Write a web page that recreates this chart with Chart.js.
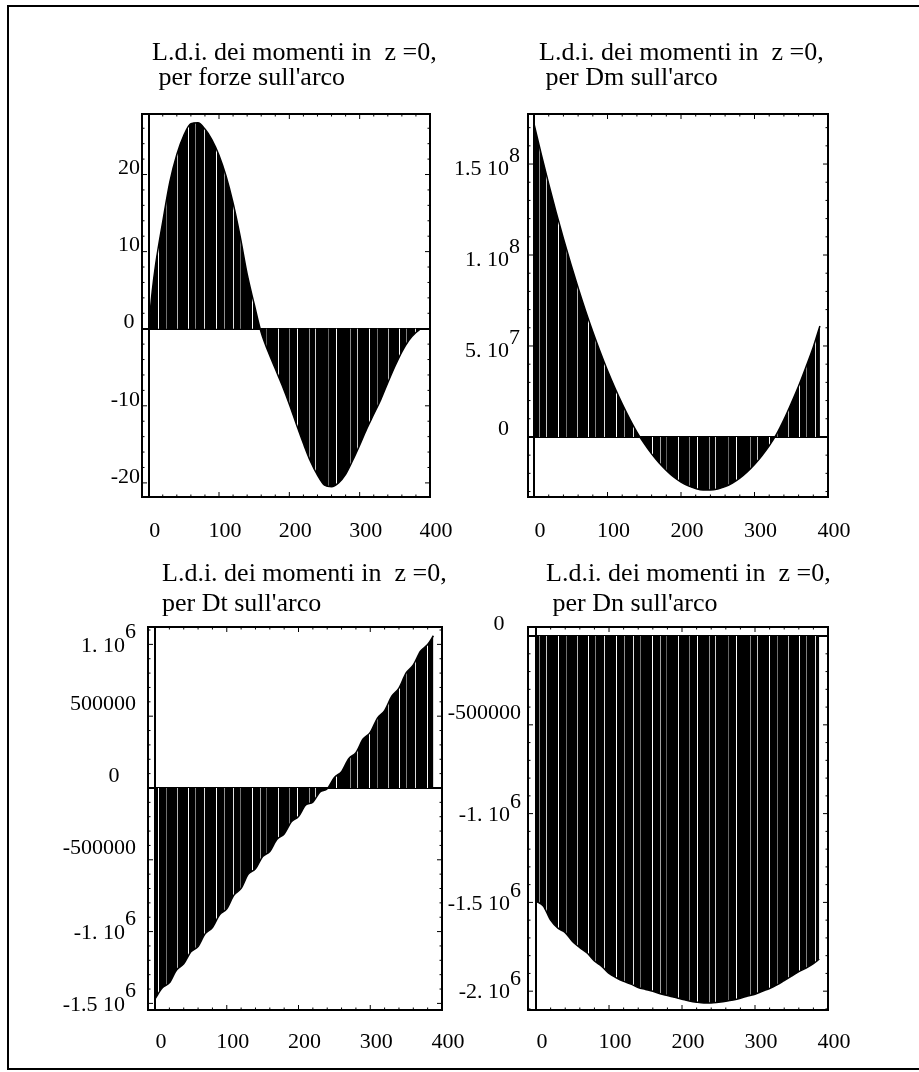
<!DOCTYPE html>
<html>
<head>
<meta charset="utf-8">
<script src="https://cdn.jsdelivr.net/npm/chart.js@4.4.1/dist/chart.umd.min.js"></script>
<style>
  html, body { margin: 0; padding: 0; background: #fff; }
  body { width: 919px; height: 1072px; position: relative; overflow: hidden; }
  #frame { position: absolute; left: 7px; top: 5px; width: 912px; height: 1065px; box-sizing: border-box;
           border-left: 2px solid #000; border-top: 2px solid #000; border-bottom: 2px solid #000; }
  canvas { position: absolute; }
</style>
</head>
<body>
<div id="frame"></div>
<canvas id="c1" width="480" height="560" style="left:0px;top:0px"></canvas>
<canvas id="c2" width="519" height="560" style="left:400px;top:0px"></canvas>
<canvas id="c3" width="490" height="532" style="left:0px;top:540px"></canvas>
<canvas id="c4" width="519" height="532" style="left:400px;top:540px"></canvas>
<script>
// ---------------- titles ----------------
const titleForze = ["L.d.i. dei momenti in  z =0,", " per forze sull'arco"];
const titleDm    = ["L.d.i. dei momenti in  z =0,", " per Dm sull'arco"];
const titleDt    = ["L.d.i. dei momenti in  z =0,", "per Dt sull'arco"];
const titleDn    = ["L.d.i. dei momenti in  z =0,", " per Dn sull'arco"];

// ---------------- x ticks (shared) ----------------
const xTickValues = [0, 100, 200, 300, 400];
const xTickLabels = ["0", "100", "200", "300", "400"];

// ---------------- panel 1: forze sull'arco ----------------
const xForze = [0, 5, 10, 20, 30, 40, 50, 60, 70, 80, 90, 100, 110, 120, 130, 140, 150, 160, 170, 180, 190,
                200, 210, 220, 230, 240, 250, 260, 270, 280, 290, 300, 310, 320, 330, 340, 350, 360, 370, 380, 387];
const yForze = [0, 4.8, 8.4, 13.9, 19.0, 22.6, 25.1, 26.6, 26.7, 25.9, 24.5, 22.5, 19.8, 16.3, 12.0, 7.1, 3.2, -0.5, -3.0, -5.2, -7.4,
                -9.8, -12.4, -14.9, -17.2, -19.0, -20.3, -20.5, -20.0, -18.9, -17.1, -15.1, -13.0, -11.1, -9.2, -7.0, -4.9, -3.0, -1.5, -0.5, 0];
const yTicksForze  = [-20, -10, 0, 10, 20];
const yLabelsForze = ["-20", "-10", "0 ", "10", "20"];

// ---------------- panel 2: Dm sull'arco ----------------
const xDm = [0, 10, 20, 30, 40, 50, 60, 70, 80, 90, 100, 110, 120, 130, 140, 150, 160, 170, 180, 190,
             200, 210, 220, 230, 240, 250, 260, 270, 280, 290, 300, 310, 320, 330, 340, 350, 360, 370, 380, 389];
const yDm = [1.72e8, 1.552e8, 1.391e8, 1.237e8, 1.091e8, 9.52e7, 8.20e7, 6.95e7, 5.78e7, 4.68e7, 3.65e7, 2.70e7, 1.82e7, 1.01e7, 2.7e6,
             -3.7e6, -9.3e6, -1.42e7, -1.84e7, -2.20e7, -2.48e7, -2.69e7, -2.84e7, -2.92e7, -2.92e7, -2.86e7, -2.73e7, -2.53e7, -2.26e7,
             -1.92e7, -1.51e7, -1.03e7, -4.9e6, 1.5e6, 9.5e6, 1.85e7, 2.8e7, 3.85e7, 4.95e7, 6.1e7];
const yTicksDm  = [0, 5e7, 1e8, 1.5e8];
const yLabelsDm = [["0  ", ""], ["7", "5. 10  "], ["8", "1. 10  "], ["8", "1.5 10  "]];

// ---------------- panel 3: Dt sull'arco ----------------
const xDt = [0, 10, 20, 30, 40, 50, 60, 70, 80, 90, 100, 110, 120, 130, 140, 150, 160, 170, 180, 190,
             200, 210, 220, 230, 240, 250, 260, 270, 280, 290, 300, 310, 320, 330, 340, 350, 360, 370, 380, 388];
const yDt = [-1.469e6, -1.393e6, -1.357e6, -1.267e6, -1.225e6, -1.141e6, -1.104e6, -1.014e6, -0.972e6, -0.883e6,
             -0.841e6, -0.746e6, -0.699e6, -0.600e6, -0.563e6, -0.478e6, -0.442e6, -0.357e6, -0.320e6, -0.236e6,
             -0.199e6, -0.119e6, -0.098e6, -0.028e6, -0.005e6, 0.073e6, 0.114e6, 0.204e6, 0.246e6, 0.341e6,
             0.387e6, 0.487e6, 0.539e6, 0.639e6, 0.696e6, 0.801e6, 0.857e6, 0.952e6, 0.999e6, 1.06e6];
const yTicksDt  = [-1.5e6, -1e6, -5e5, 0, 5e5, 1e6];
const yLabelsDt = [["6", "-1.5 10  "], ["6", "-1. 10  "], ["-500000", ""], ["0   ", ""], ["500000", ""], ["6", "1. 10  "]];

// ---------------- panel 4: Dn sull'arco ----------------
const xDn = [0, 10, 20, 30, 40, 50, 60, 70, 80, 90, 100, 110, 120, 130, 140, 150, 160, 170, 180, 190,
             200, 210, 220, 230, 240, 250, 260, 270, 280, 290, 300, 310, 320, 330, 340, 350, 360, 370, 380, 388];
const yDn = [-1.494e6, -1.52e6, -1.60e6, -1.645e6, -1.67e6, -1.72e6, -1.755e6, -1.785e6, -1.83e6, -1.86e6,
             -1.90e6, -1.925e6, -1.945e6, -1.96e6, -1.98e6, -1.99e6, -2.0e6, -2.015e6, -2.025e6, -2.035e6,
             -2.045e6, -2.055e6, -2.062e6, -2.066e6, -2.066e6, -2.062e6, -2.057e6, -2.05e6, -2.04e6, -2.027e6,
             -2.017e6, -2.0e6, -1.985e6, -1.965e6, -1.94e6, -1.915e6, -1.89e6, -1.87e6, -1.845e6, -1.82e6];
const yTicksDn  = [-2e6, -1.5e6, -1e6, -5e5, 0];
const yLabelsDn = [["6", "-2. 10  "], ["6", "-1.5 10  "], ["6", "-1. 10  "], ["-500000", ""], ["0   ", ""]];

// ---------------- rendering ----------------
const FONT = "'Liberation Serif', 'Times New Roman', Times, serif";

// texture of the filled regions: dark vertical strokes with irregular light gaps
function makeFillPattern() {
  const c = document.createElement('canvas');
  c.width = 211; c.height = 4;
  const g = c.getContext('2d');
  g.fillStyle = '#000';
  g.fillRect(0, 0, c.width, c.height);
  const gaps = [[5, '#ffffff'], [13, '#8f8f8f'], [22, '#e0e0e0'], [29, '#6e6e6e'], [41, '#ffffff'],
                [49, '#a5a5a5'], [55, '#5f5f5f'], [67, '#f0f0f0'], [78, '#7c7c7c'], [86, '#ffffff'],
                [98, '#959595'], [104, '#d0d0d0'], [117, '#666666'], [125, '#ffffff'], [139, '#8a8a8a'],
                [146, '#c8c8c8'], [158, '#ffffff'], [166, '#707070'], [177, '#b5b5b5'], [188, '#ffffff'],
                [195, '#808080'], [204, '#dddddd']];
  gaps.forEach(([x, col]) => { g.fillStyle = col; g.fillRect(x, 0, 1, c.height); });
  return g.createPattern(c, 'repeat');
}
const FILL = makeFillPattern();

const titlePlugin = {
  id: 'panelTitle',
  afterDraw(chart, args, opts) {
    const { ctx, chartArea: a } = chart;
    ctx.save();
    ctx.fillStyle = '#000';
    ctx.font = opts.size + 'px ' + FONT;
    ctx.textAlign = 'left';
    ctx.textBaseline = 'alphabetic';
    opts.lines.forEach((t, i) => ctx.fillText(t, a.left + opts.dx, a.top + opts.dy[i]));
    ctx.restore();
  }
};

const framePlugin = {
  id: 'panelFrame',
  afterDatasetsDraw(chart, args, opts) {
    const { ctx, chartArea: a } = chart;
    const xs = chart.scales.x, ys = chart.scales.y;
    ctx.save();
    ctx.strokeStyle = '#000';
    ctx.lineWidth = 1;
    const seg = (x1, y1, x2, y2) => { ctx.beginPath(); ctx.moveTo(x1, y1); ctx.lineTo(x2, y2); ctx.stroke(); };
    const marks = (scale, div, draw) => {
      const vals = scale.ticks.map(t => t.value);
      if (vals.length < 2) return;
      const step = (vals[1] - vals[0]) / div;
      let k = Math.ceil(scale.min / step - 1e-9);
      for (; k * step <= scale.max + 1e-9 * Math.abs(step); k++) {
        const v = k * step;
        const major = vals.some(m => Math.abs(m - v) < Math.abs(step) * 1e-6);
        draw(scale.getPixelForValue(v), major ? opts.major : opts.minor);
      }
    };
    marks(xs, 5, (p, len) => { seg(p, a.bottom, p, a.bottom - len); seg(p, a.top, p, a.top + len); });
    marks(ys, 5, (p, len) => { seg(a.left, p, a.left + len, p); seg(a.right, p, a.right - len, p); });
    ctx.lineWidth = opts.width;
    ctx.strokeRect(a.left, a.top, a.right - a.left, a.bottom - a.top);
    ctx.restore();
  }
};

function zeroColor(c) { return (c.tick && c.tick.value === 0) ? '#000' : 'rgba(0,0,0,0)'; }

function panel(id, p) {
  const pts = p.xs.map((x, i) => ({ x: x, y: p.ys[i] }));
  return new Chart(document.getElementById(id), {
    type: 'line',
    data: {
      datasets: [{
        data: pts,
        fill: 'origin',
        backgroundColor: FILL,
        borderColor: '#000',
        borderWidth: 1.5,
        pointRadius: 0,
        cubicInterpolationMode: 'monotone'
      }]
    },
    options: {
      responsive: false,
      animation: false,
      devicePixelRatio: 1,
      events: [],
      layout: { padding: p.pad },
      plugins: {
        legend: { display: false },
        tooltip: { enabled: false },
        title: { display: false },
        panelTitle: { lines: p.title, size: 26, dx: p.tdx, dy: p.tdy },
        panelFrame: { width: 2, major: 5, minor: 2.5 }
      },
      scales: {
        x: {
          type: 'linear',
          min: p.xMin, max: p.xMax,
          afterBuildTicks: s => { s.ticks = xTickValues.map(v => ({ value: v })); },
          afterFit: s => { s.height = 50; },
          border: { display: false },
          grid: { drawTicks: false, color: zeroColor, lineWidth: 2 },
          ticks: {
            padding: p.xPad, labelOffset: 6, maxRotation: 0, autoSkip: false, color: '#000',
            font: { family: FONT, size: 22 },
            callback: (v, i) => xTickLabels[i]
          }
        },
        y: {
          type: 'linear',
          min: p.yMin, max: p.yMax,
          afterBuildTicks: s => { s.ticks = p.yTicks.map(v => ({ value: v })); },
          afterFit: s => { s.width = p.yWidth; },
          border: { display: false },
          grid: { drawTicks: false, color: zeroColor, lineWidth: 2 },
          ticks: {
            padding: p.yPad, labelOffset: p.yOff, autoSkip: false, color: '#000',
            font: { family: FONT, size: 22, lineHeight: p.yLh },
            callback: (v, i) => p.yLabels[i]
          }
        }
      }
    },
    plugins: [titlePlugin, framePlugin]
  });
}

panel('c1', {
  xs: xForze, ys: yForze, title: titleForze, tdx: 10, tdy: [-54, -29],
  xMin: -9.5, xMax: 400, yMin: -21.83, yMax: 27.85,
  yTicks: yTicksForze, yLabels: yLabelsForze, yWidth: 142, yPad: 2, yOff: -6, yLh: 1.2, xPad: 21,
  pad: { left: 0, top: 114, right: 50, bottom: 13 }
});
panel('c2', {
  xs: xDm, ys: yDm, title: titleDm, tdx: 11, tdy: [-54, -29],
  xMin: -8.2, xMax: 400, yMin: -3.30e7, yMax: 1.775e8,
  yTicks: yTicksDm, yLabels: yLabelsDm, yWidth: 128, yPad: 8, yOff: -1.5, yLh: 13 / 22, xPad: 21,
  pad: { left: 0, top: 114, right: 91, bottom: 13 }
});
panel('c3', {
  xs: xDt, ys: yDt, title: titleDt, tdx: 14, tdy: [-46, -16],
  xMin: -9.8, xMax: 400, yMin: -1.546e6, yMax: 1.121e6,
  yTicks: yTicksDt, yLabels: yLabelsDt, yWidth: 148, yPad: 12, yOff: -5, yLh: 14 / 22, xPad: 19,
  pad: { left: 0, top: 87, right: 48, bottom: 12 }
});
panel('c4', {
  xs: xDn, ys: yDn, title: titleDn, tdx: 18, tdy: [-46, -16],
  xMin: -11, xMax: 400, yMin: -2.106e6, yMax: 5.1e4,
  yTicks: yTicksDn, yLabels: yLabelsDn, yWidth: 128, yPad: 7, yOff: -5, yLh: 13 / 22, xPad: 19,
  pad: { left: 0, top: 87, right: 91, bottom: 12 }
});
</script>
</body>
</html>
